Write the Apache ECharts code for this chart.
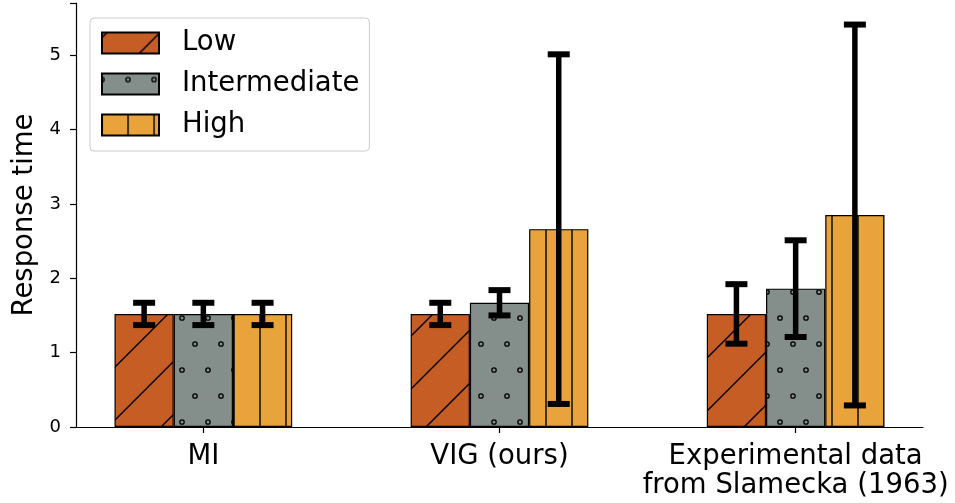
<!DOCTYPE html>
<html>
<head>
<meta charset="utf-8">
<script src="https://cdn.jsdelivr.net/npm/echarts@6/dist/echarts.min.js"></script>
<style>
  html, body { margin: 0; padding: 0; background: #fff; }
  #chart { width: 955px; height: 503px; }
</style>
</head>
<body>
<div id="chart"></div>
<script>
// Response time per condition, with error-bar half widths
const categories = ['MI', 'VIG (ours)', 'Experimental data\nfrom Slamecka (1963)'];
const levels = ['Low', 'Intermediate', 'High'];
const lowMean = [1.52, 1.52, 1.52];
const lowErr = [0.15, 0.15, 0.40];
const midMean = [1.52, 1.67, 1.86];
const midErr = [0.15, 0.17, 0.65];
const highMean = [1.52, 2.66, 2.85];
const highErr = [0.15, 2.35, 2.56];
const yTicks = [0, 1, 2, 3, 4, 5];

const FONT = 'DejaVu Sans';
const colors = { Low: '#C65D24', Intermediate: '#848E8B', High: '#E8A33D' };

// Grid and x range (bars sit at group +/- 0.2, width 0.2)
const grid = { left: 76, right: 32, top: 3, bottom: 76 };
const xMin = -0.43, xMax = 2.43;
const pxPerUnit = (955 - grid.left - grid.right) / (xMax - xMin);
const barW = 0.2 * pxPerUnit;

// Hatch tiles drawn on small canvases and used as repeating fills
function tile(w, h, fill, draw) {
  const c = document.createElement('canvas');
  c.width = w; c.height = h;
  const g = c.getContext('2d');
  g.fillStyle = fill;
  g.fillRect(0, 0, w, h);
  g.strokeStyle = '#000';
  draw(g, w, h);
  return { image: c, repeat: 'repeat' };
}

// "/" diagonal lines
const diagFill = tile(53, 53, colors.Low, (g, w, h) => {
  g.lineWidth = 1.4;
  const off = 5;
  for (let k = -1; k <= 2; k++) {
    const c = k * w + off;
    g.beginPath();
    g.moveTo(c + 3, -3);
    g.lineTo(-3, c + 3);
    g.stroke();
  }
});

// small open circles in a staggered layout
const dotFill = tile(26, 52, colors.Intermediate, (g, w, h) => {
  g.lineWidth = 1.3;
  const pts = [[0, 6], [13, 32]];
  for (const [px, py] of pts) {
    for (let i = -1; i <= 1; i++) {
      for (let j = -1; j <= 1; j++) {
        g.beginPath();
        g.arc(px + i * w, py + j * h, 2.2, 0, Math.PI * 2);
        g.stroke();
      }
    }
  }
});

// "|" vertical lines
const vertFill = tile(26, 26, colors.High, (g, w, h) => {
  g.lineWidth = 1.4;
  for (const x of [0, w]) {
    g.beginPath();
    g.moveTo(x, 0);
    g.lineTo(x, h);
    g.stroke();
  }
});

const fills = { Low: diagFill, Intermediate: dotFill, High: vertFill };
const means = { Low: lowMean, Intermediate: midMean, High: highMean };
const errs = { Low: lowErr, Intermediate: midErr, High: highErr };
const offsets = { Low: -0.2, Intermediate: 0, High: 0.2 };

const barSeries = levels.map(name => ({
  name,
  type: 'bar',
  barWidth: barW,
  barGap: '-100%',
  itemStyle: { color: fills[name], borderColor: '#000', borderWidth: 1.2 },
  data: means[name].map((v, i) => [i + offsets[name], v]),
  z: 2
}));

const errData = [];
levels.forEach(name => {
  means[name].forEach((v, i) => {
    errData.push([i + offsets[name], v - errs[name][i], v + errs[name][i]]);
  });
});

const errSeries = {
  type: 'custom',
  name: 'errors',
  z: 5,
  encode: { x: 0, y: [1, 2] },
  data: errData,
  renderItem(params, api) {
    const x = api.value(0);
    const lo = api.coord([x, api.value(1)]);
    const hi = api.coord([x, api.value(2)]);
    const hw = 11;
    const cap = { stroke: '#000', lineWidth: 6 };
    return {
      type: 'group',
      children: [
        { type: 'line', shape: { x1: lo[0], y1: lo[1], x2: hi[0], y2: hi[1] }, style: { stroke: '#000', lineWidth: 5.5 } },
        { type: 'line', shape: { x1: hi[0] - hw, y1: hi[1], x2: hi[0] + hw, y2: hi[1] }, style: cap },
        { type: 'line', shape: { x1: lo[0] - hw, y1: lo[1], x2: lo[0] + hw, y2: lo[1] }, style: cap }
      ]
    };
  }
};

const chart = echarts.init(document.getElementById('chart'), null, { renderer: 'canvas' });
chart.setOption({
  animation: false,
  backgroundColor: '#fff',
  textStyle: { fontFamily: FONT },
  grid,
  legend: {
    data: levels,
    orient: 'vertical',
    left: 90,
    top: 18,
    itemWidth: 57,
    itemHeight: 21,
    itemGap: 13,
    icon: 'rect',
    padding: [11, 10, 12, 11],
    backgroundColor: 'rgba(255,255,255,0.8)',
    borderColor: '#cccccc',
    borderWidth: 1,
    borderRadius: 4,
    textStyle: { fontFamily: FONT, fontSize: 27.5, color: '#000', padding: [0, 0, 0, 18] }
  },
  xAxis: {
    type: 'value',
    min: xMin,
    max: xMax,
    splitLine: { show: false },
    axisLine: { show: true, onZero: false, lineStyle: { color: '#000', width: 1.2 } },
    axisTick: { show: true, customValues: [0, 1, 2], length: 6, lineStyle: { color: '#000', width: 1.2 } },
    axisLabel: {
      customValues: [0, 1, 2],
      formatter: v => categories[Math.round(v)],
      fontFamily: FONT, fontSize: 27.5, lineHeight: 29, color: '#000', margin: 15
    }
  },
  yAxis: {
    type: 'value',
    min: 0,
    max: 5.7,
    interval: 1,
    name: 'Response time',
    nameLocation: 'middle',
    nameGap: 37,
    nameTextStyle: { fontFamily: FONT, fontSize: 27.5, color: '#000' },
    splitLine: { show: false },
    axisLine: { show: true, onZero: false, lineStyle: { color: '#000', width: 1.2 } },
    axisTick: { show: true, length: 6, lineStyle: { color: '#000', width: 1.2 } },
    axisLabel: {
      customValues: yTicks,
      fontFamily: FONT, fontSize: 18, color: '#000', margin: 15
    }
  },
  series: [...barSeries, errSeries]
});
</script>
</body>
</html>
